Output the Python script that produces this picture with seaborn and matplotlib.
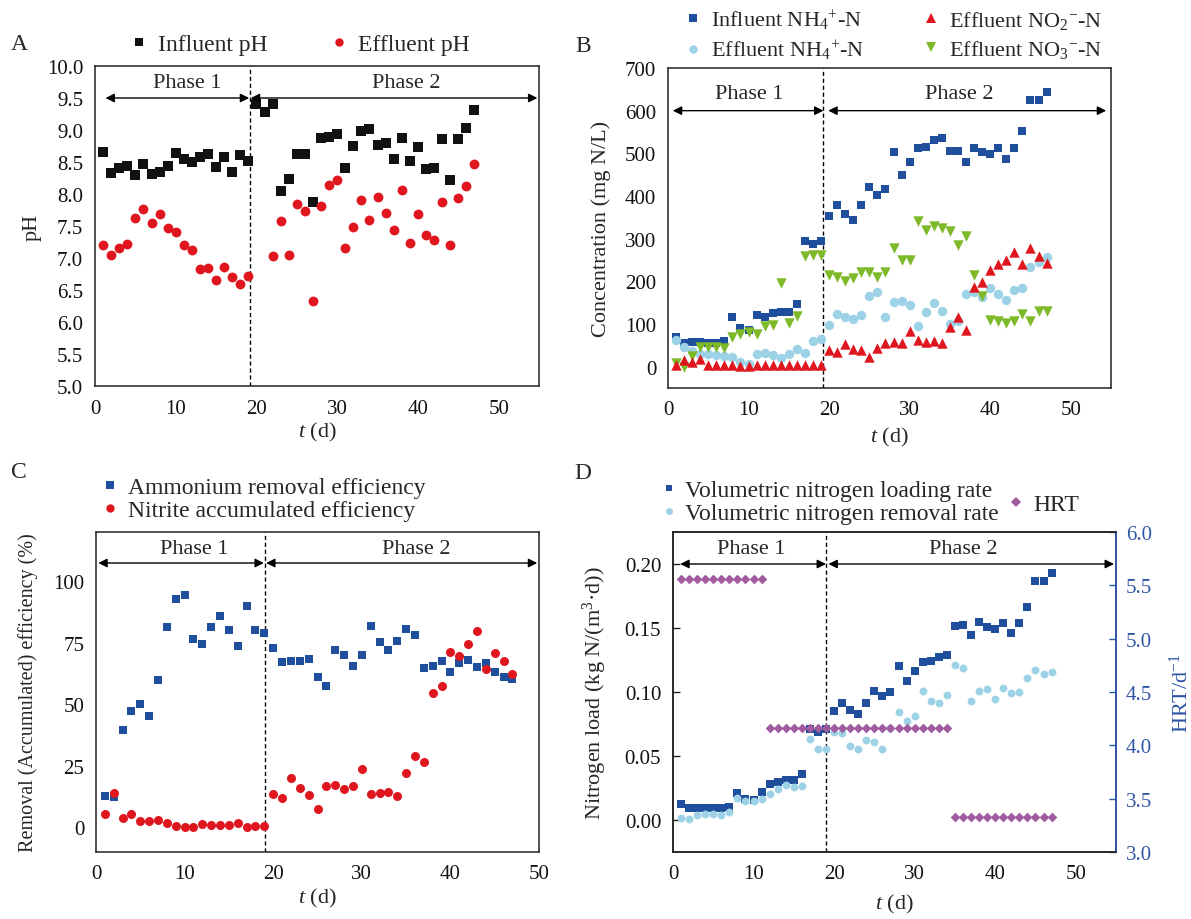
import numpy as np
import pandas as pd
import matplotlib
matplotlib.use("Agg")
import matplotlib.pyplot as plt
import seaborn as sns
from matplotlib.lines import Line2D
from matplotlib.ticker import FormatStrFormatter

# ---------------- data ----------------
days = list(range(1, 48))

# Panel A: pH
influent_ph = [8.65, 8.33, 8.41, 8.44, 8.29, 8.47, 8.32, 8.34, 8.43, 8.64,
               8.54, 8.50, 8.58, 8.63, 8.42, 8.58, 8.35, 8.61, 8.52, 9.40,
               9.28, 9.40, 8.04, 8.23, 8.63, 8.63, 7.88, 8.87, 8.89, 8.93,
               8.41, 8.75, 8.99, 9.01, 8.76, 8.80, 8.55, 8.87, 8.51, 8.74,
               8.39, 8.40, 8.86, 8.22, 8.86, 9.03, 9.32]
effluent_ph = [7.21, 7.05, 7.15, 7.22, 7.63, 7.76, 7.55, 7.68, 7.47, 7.40,
               7.21, 7.12, 6.83, 6.85, 6.65, 6.86, 6.71, 6.59, 6.72, np.nan,
               np.nan, 7.03, 7.58, 7.05, 7.85, 7.73, 6.33, 7.81, 8.14, 8.22,
               7.15, 7.48, 7.91, 7.59, 7.95, 7.71, 7.43, 8.06, 7.23, 7.68,
               7.36, 7.28, 7.88, 7.21, 7.93, 8.12, 8.47]

# Panel B: concentrations (mg N/L)
influent_nh4 = [69, 56, 58, 57, 56, 56, 59, 116, 91, 85,
                120, 116, 125, 129, 129, 148, 294, 288, 294, 354,
                378, 357, 344, 380, 420, 402, 416, 502, 450, 480,
                513, 516, 531, 536, 505, 506, 479, 513, 502, 498,
                512, 486, 512, 553, 624, 624, 644]
effluent_nh4 = [62, 46, 37, 30, 29, 27, 25, 22, 11, 7,
                30, 33, 27, 20, 29, 41, 32, 61, 65, 97,
                123, 116, 112, 120, 166, 174, 117, 152, 155, 144,
                95, 128, 150, 130, 100, 108, 170, 176, 164, 185,
                171, 156, 180, 184, 234, 245, 258]
effluent_no2 = [3, 15, 11, 17, 3, 3, 3, 3, 2, 2,
                3, 3, 3, 3, 3, 3, 3, 3, 3, 39,
                34, 53, 42, 39, 23, 44, 56, 58, 55, 84,
                62, 58, 59, 56, 93, 116, 85, 187, 198, 227,
                241, 250, 268, 240, 278, 259, 243]
effluent_no3 = [9, -1, 25, 45, 46, 45, 44, 69, 77, 81,
                77, 95, 97, 196, 102, 119, 259, 262, 262, 216,
                209, 200, 208, 222, 223, 210, 223, 278, 251, 251,
                342, 321, 330, 326, 317, 284, 307, 214, 166, 109,
                107, 103, 106, 124, 106, 130, 130]

# Panel C: efficiencies (%)
ammonium_removal = [12.6, 12.2, 39.5, 47.4, 50.3, 45.3, 60.0, 81.6, 92.6, 94.3,
                    76.6, 74.3, 81.4, 85.8, 80.0, 73.6, 89.9, 80.0, 78.9, 72.7,
                    67.2, 67.7, 67.6, 68.4, 60.9, 57.3, 72.0, 70.0, 65.5, 70.1,
                    81.9, 75.4, 72.0, 75.9, 80.4, 78.2, 64.6, 65.7, 67.6, 63.2,
                    66.6, 68.0, 65.3, 66.6, 63.0, 61.2, 60.1]
nitrite_accum = [5.5, 14.1, 3.9, 5.4, 2.6, 2.7, 2.8, 1.9, 0.4, 0.0,
                 0.1, 1.5, 1.1, 0.9, 0.8, 1.8, 0.0, 0.5, 0.4, 13.6,
                 11.9, 20.1, 16.1, 13.2, 7.4, 16.9, 17.2, 15.5, 17.0, 23.8,
                 13.4, 13.8, 14.3, 12.7, 22.0, 28.8, 26.5, 54.7, 57.6, 71.4,
                 69.6, 74.6, 79.7, 64.5, 70.8, 67.6, 62.3]

# Panel D: nitrogen loading / removal rate and HRT
nlr = [0.0125, 0.0091, 0.0096, 0.0096, 0.0096, 0.0096, 0.0104, 0.0210, 0.0164, 0.0156,
       0.0216, 0.0278, 0.0299, 0.0312, 0.0314, 0.0356, 0.0710, 0.0690, 0.0710, 0.0852,
       0.0912, 0.0862, 0.0831, 0.0917, 0.1010, 0.0969, 0.1000, 0.1205, 0.1086, 0.1161,
       0.1234, 0.1239, 0.1275, 0.1286, 0.1517, 0.1522, 0.1442, 0.1545, 0.1509, 0.1496,
       0.1540, 0.1460, 0.1540, 0.1662, 0.1865, 0.1868, 0.1930]
nrr = [0.0013, 0.0008, 0.0039, 0.0047, 0.0047, 0.0042, 0.0060, 0.0171, 0.0148, 0.0145,
       0.0166, 0.0205, 0.0244, 0.0270, 0.0255, 0.0262, 0.0634, 0.0553, 0.0558, 0.0691,
       0.0683, 0.0582, 0.0558, 0.0626, 0.0613, 0.0551, 0.0720, 0.0847, 0.0771, 0.0813,
       0.1010, 0.0932, 0.0917, 0.0977, 0.1213, 0.1190, 0.0930, 0.1010, 0.1021, 0.0943,
       0.1029, 0.0995, 0.1003, 0.1109, 0.1169, 0.1143, 0.1156]
hrt = [5.56] * 11 + [4.16] * 23 + [3.33] * 13

phase_split = [19.2, 19.2, 19.1, 19.0]

# ---------------- style ----------------
sns.set_style("white")
plt.rcParams["font.family"] = ["Liberation Serif", "DejaVu Serif"]
plt.rcParams["mathtext.fontset"] = "custom"
plt.rcParams["mathtext.rm"] = "Liberation Serif"
plt.rcParams["mathtext.it"] = "Liberation Serif:italic"
plt.rcParams["mathtext.bf"] = "Liberation Serif:bold"
plt.rcParams["axes.edgecolor"] = "#222222"
plt.rcParams["axes.linewidth"] = 1.1

FS = 15      # ticks
AFS = 16     # axis labels
LFS = 17     # legends
C_BLACK = "#111111"
C_RED = "#E0161E"
C_DBLUE = "#1F4E9C"
C_LBLUE = "#9DD2E6"
C_GREEN = "#7DB928"
C_PURPLE = "#A05A9E"
C_AXBLUE = "#2E55A5"

fig = plt.figure(figsize=(11.91, 9.2), dpi=100)
W, H = 1191.0, 920.0


def add_ax(l, r, t, b):
    return fig.add_axes([l / W, 1 - b / H, (r - l) / W, (b - t) / H])


axA = add_ax(95, 539, 67, 387)
axB = add_ax(668, 1111, 69, 389)
axC = add_ax(96, 539, 533, 853)
axD = add_ax(673, 1116, 533, 853)


def style_ax(ax):
    ax.tick_params(direction="in", length=5, width=1, labelsize=FS,
                   top=False, right=False, colors="#222222",
                   labelcolor="#111111")
    ax.tick_params(axis="x", pad=9)
    ax.tick_params(axis="y", pad=8.5)
    for s in ax.spines.values():
        s.set_visible(True)


def phases(ax, xs, y_arrow, y_text, p1, p2, x_left1, x_right1, x_left2, x_right2):
    ax.axvline(xs, color="black", lw=1.0, ls=(0, (3, 2)), zorder=1)
    ap = dict(arrowstyle="<|-|>", color="black", lw=1.0, mutation_scale=13,
              shrinkA=0, shrinkB=0)
    ax.annotate("", xy=(x_right1, y_arrow), xytext=(x_left1, y_arrow), arrowprops=ap)
    ax.annotate("", xy=(x_right2, y_arrow), xytext=(x_left2, y_arrow), arrowprops=ap)
    ax.text(p1, y_text, "Phase 1", ha="center", va="center", fontsize=AFS)
    ax.text(p2, y_text, "Phase 2", ha="center", va="center", fontsize=AFS)


def handle(marker, color, ms):
    return Line2D([], [], marker=marker, color=color, ls="none", markersize=ms,
                  markeredgewidth=0)


# ---------------- Panel A ----------------
dfA = pd.DataFrame({"day": days, "inf": influent_ph, "eff": effluent_ph})
sns.scatterplot(data=dfA, x="day", y="inf", ax=axA, marker="s", s=44,
                color=C_BLACK, linewidth=0, legend=False, zorder=3)
sns.scatterplot(data=dfA, x="day", y="eff", ax=axA, marker="o", s=50,
                color=C_RED, linewidth=0, legend=False, zorder=3)
axA.set_xlim(0, 55)
axA.set_ylim(5, 10)
axA.set_xticks([0, 10, 20, 30, 40, 50])
axA.set_yticks(np.arange(5, 10.01, 0.5))
axA.yaxis.set_major_formatter(FormatStrFormatter("%.1f"))
style_ax(axA)
phases(axA, phase_split[0], 9.5, 9.75, 11.4, 38.6, 1.3, 19.1, 19.3, 54.8)
axA.set_xlabel(r"$t$ (d)", fontsize=AFS)
axA.set_ylabel("pH", fontsize=AFS)
axA.yaxis.set_label_coords(-0.121, 0.5)
axA.xaxis.set_label_coords(0.5, -0.105)

fig.legend([handle("s", C_BLACK, 5.5), handle("o", C_RED, 6)],
           ["Influent pH", "Effluent pH"], ncol=2, loc="center left",
           bbox_to_anchor=(130 / W, 1 - 45 / H), frameon=False, fontsize=LFS,
           handlelength=0.8, handletextpad=0.4, columnspacing=2.6, borderpad=0,
           borderaxespad=0)
fig.text(19 / W, 1 - 45 / H, "A", fontsize=17, ha="center", va="center")

# ---------------- Panel B ----------------
dfB = pd.DataFrame({"day": days, "inf_nh4": influent_nh4, "eff_nh4": effluent_nh4,
                    "no2": effluent_no2, "no3": effluent_no3})
sns.scatterplot(data=dfB, x="day", y="inf_nh4", ax=axB, marker="s", s=40,
                color=C_DBLUE, linewidth=0, legend=False, zorder=3)
sns.scatterplot(data=dfB, x="day", y="eff_nh4", ax=axB, marker="o", s=46,
                color=C_LBLUE, linewidth=0, legend=False, zorder=3)
sns.scatterplot(data=dfB, x="day", y="no3", ax=axB, marker="v", s=56,
                color=C_GREEN, linewidth=0, legend=False, zorder=3)
sns.scatterplot(data=dfB, x="day", y="no2", ax=axB, marker="^", s=56,
                color=C_RED, linewidth=0, legend=False, zorder=4)
axB.set_xlim(0, 55)
axB.set_ylim(-50, 700)
axB.set_xticks([0, 10, 20, 30, 40, 50])
axB.set_yticks(np.arange(0, 701, 100))
style_ax(axB)
phases(axB, phase_split[1], 600, 640, 10.1, 36.2, 0.6, 19.3, 19.9, 54.4)
axB.set_xlabel(r"$t$ (d)", fontsize=AFS)
axB.set_ylabel("Concentration (mg N/L)", fontsize=AFS)
axB.yaxis.set_label_coords(-0.128, 0.5)
axB.xaxis.set_label_coords(0.5, -0.115)

fig.legend([handle("s", C_DBLUE, 5.5), handle("o", C_LBLUE, 6),
            handle("^", C_RED, 7), handle("v", C_GREEN, 7)],
           [r"Influent NH$_4$$^{+}$-N", r"Effluent NH$_4$$^{+}$-N",
            r"Effluent NO$_2$$^{-}$-N", r"Effluent NO$_3$$^{-}$-N"],
           ncol=2, loc="center left", bbox_to_anchor=(684 / W, 1 - 36 / H),
           frameon=False, fontsize=LFS - 1, handlelength=0.8, handletextpad=0.4,
           columnspacing=2.6, labelspacing=0.3, borderpad=0, borderaxespad=0)
fig.text(583 / W, 1 - 47 / H, "B", fontsize=17, ha="center", va="center")

# ---------------- Panel C ----------------
dfC = pd.DataFrame({"day": days, "amm": ammonium_removal, "nit": nitrite_accum})
sns.scatterplot(data=dfC, x="day", y="amm", ax=axC, marker="s", s=36,
                color=C_DBLUE, linewidth=0, legend=False, zorder=3)
sns.scatterplot(data=dfC, x="day", y="nit", ax=axC, marker="o", s=42,
                color=C_RED, linewidth=0, legend=False, zorder=4)
axC.set_xlim(0, 50)
axC.set_ylim(-10, 120)
axC.set_xticks([0, 10, 20, 30, 40, 50])
axC.set_yticks([0, 25, 50, 75, 100])
style_ax(axC)
phases(axC, phase_split[2], 107.4, 113.2, 11.1, 36.2, 0.26, 18.95, 19.2, 49.8)
axC.set_xlabel(r"$t$ (d)", fontsize=AFS)
axC.set_ylabel("Removal (Accumulated) efficiency (%)", fontsize=14.5)
axC.yaxis.set_label_coords(-0.13, 0.5)
axC.xaxis.set_label_coords(0.5, -0.105)

fig.legend([handle("s", C_DBLUE, 5.5), handle("o", C_RED, 6)],
           ["Ammonium removal efficiency", "Nitrite accumulated efficiency"],
           ncol=1, loc="center left", bbox_to_anchor=(101 / W, 1 - 500 / H),
           frameon=False, fontsize=LFS, handlelength=0.8, handletextpad=0.36,
           labelspacing=0.05, borderpad=0, borderaxespad=0)
fig.text(19 / W, 1 - 472 / H, "C", fontsize=17, ha="center", va="center")

# ---------------- Panel D ----------------
axD2 = axD.twinx()
dfD = pd.DataFrame({"day": days, "nlr": nlr, "nrr": nrr, "hrt": hrt})
sns.scatterplot(data=dfD, x="day", y="nlr", ax=axD, marker="s", s=26,
                color=C_DBLUE, linewidth=0, legend=False, zorder=3)
sns.scatterplot(data=dfD, x="day", y="nrr", ax=axD, marker="o", s=32,
                color=C_LBLUE, linewidth=0, legend=False, zorder=3)
sns.scatterplot(data=dfD, x="day", y="hrt", ax=axD2, marker="D", s=24,
                color=C_PURPLE, linewidth=0, legend=False, zorder=5)
axD.set_xlim(0, 55)
axD.set_ylim(-0.025, 0.225)
axD.set_xticks([0, 10, 20, 30, 40, 50])
axD.set_yticks([0.0, 0.05, 0.10, 0.15, 0.20])
axD.yaxis.set_major_formatter(FormatStrFormatter("%.2f"))
style_ax(axD)
axD2.set_ylim(3.0, 6.0)
axD2.set_yticks(np.arange(3.0, 6.01, 0.5))
axD2.yaxis.set_major_formatter(FormatStrFormatter("%.1f"))
axD2.tick_params(axis="y", direction="in", length=5, width=1, labelsize=FS,
                 colors=C_AXBLUE, labelcolor=C_AXBLUE, pad=7)
axD2.spines["right"].set_color(C_AXBLUE)
axD2.spines["right"].set_linewidth(1.3)
axD.spines["right"].set_color(C_AXBLUE)
axD2.set_ylabel(r"HRT/d$^{-1}$", fontsize=AFS, color=C_AXBLUE)
axD2.yaxis.set_label_coords(1.12, 0.5)
axD2.grid(False)
phases(axD, phase_split[3], 0.200, 0.2125, 9.7, 36.0, 0.9, 19.0, 19.3, 54.75)
axD.set_xlabel(r"$t$ (d)", fontsize=AFS)
axD.set_ylabel(r"Nitrogen load (kg N/(m$^3$·d))", fontsize=AFS)
axD.yaxis.set_label_coords(-0.145, 0.5)
axD.xaxis.set_label_coords(0.5, -0.125)

fig.legend([handle("s", C_DBLUE, 4.5), handle("o", C_LBLUE, 5)],
           ["Volumetric nitrogen loading rate", "Volumetric nitrogen removal rate"],
           ncol=1, loc="center left", bbox_to_anchor=(660 / W, 1 - 503 / H),
           frameon=False, fontsize=LFS, handlelength=0.8, handletextpad=0.26,
           labelspacing=0.05, borderpad=0, borderaxespad=0)
fig.legend([handle("D", C_PURPLE, 5)], ["HRT"], loc="center left",
           bbox_to_anchor=(1007 / W, 1 - 505 / H), frameon=False, fontsize=LFS,
           handlelength=0.8, handletextpad=0.3, borderpad=0, borderaxespad=0)
fig.text(583 / W, 1 - 474 / H, "D", fontsize=17, ha="center", va="center")

fig.savefig("out.png", dpi=100)
